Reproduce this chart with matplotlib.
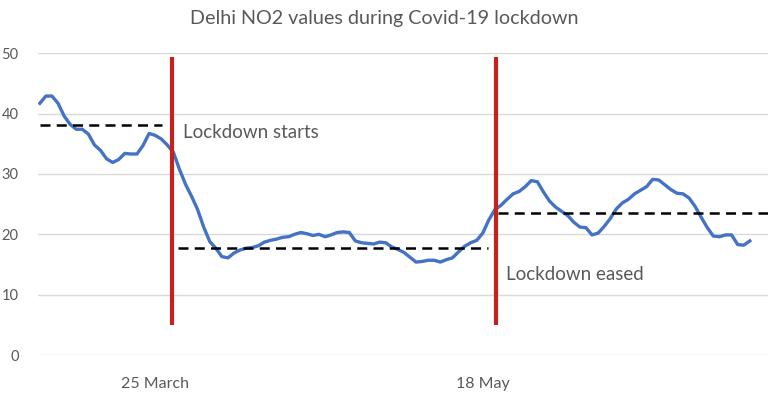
import numpy as np
import matplotlib
matplotlib.use("Agg")
import matplotlib.pyplot as plt

# ── Data (daily NO2, from 6 March onward) ─────────────────────────────────
no2 = [
    41.7, 42.9, 42.9, 41.7, 39.6, 38.2, 37.4, 37.4, 36.6, 34.8,
    33.9, 32.5, 31.9, 32.4, 33.4, 33.3, 33.3, 34.7, 36.7, 36.4,
    35.8, 34.8, 33.6, 30.8, 28.3, 26.3, 24.1, 21.2, 18.8, 17.7,
    16.3, 16.1, 16.9, 17.4, 17.7, 17.8, 18.1, 18.7, 19.0, 19.2,
    19.5, 19.6, 20.0, 20.3, 20.1, 19.8, 20.0, 19.6, 19.9, 20.3,
    20.4, 20.3, 18.9, 18.6, 18.5, 18.4, 18.7, 18.6, 17.9, 17.5,
    17.0, 16.2, 15.4, 15.5, 15.7, 15.7, 15.4, 15.8, 16.1, 17.1,
    18.0, 18.6, 19.0, 20.2, 22.4, 24.1, 24.8, 25.8, 26.7, 27.1,
    27.9, 28.9, 28.7, 27.0, 25.5, 24.5, 23.8, 23.1, 22.0, 21.2,
    21.1, 19.9, 20.2, 21.3, 22.6, 24.2, 25.2, 25.8, 26.7, 27.3,
    27.9, 29.1, 29.0, 28.2, 27.4, 26.8, 26.7, 26.0, 24.6, 22.8,
    21.1, 19.7, 19.6, 19.9, 19.9, 18.3, 18.2, 18.9,
]
tick_pos = [19, 73]
tick_labels = ["25 March", "18 May"]

# period means (dashed) and lockdown markers (red)
mean_levels = [38.1, 17.7, 23.5]
mean_spans = [(0, 20.1), (22.7, 73.8), (75.5, 120)]
events = [21.7, 75.1]
event_labels = ["Lockdown starts", "Lockdown eased"]
event_label_pos = [(23.6, 36.8), (76.8, 13.4)]

GREY = "#595959"
BLUE = "#4472C4"
RED = "#C4221A"

plt.rcParams["font.family"] = ["Lato", "DejaVu Sans"]

fig = plt.figure(figsize=(7.68, 4.03), dpi=100)
ax = fig.add_axes([0.0495, 0.119, 0.9505, 0.749])

x = np.arange(len(no2))
ax.plot(x, no2, color=BLUE, lw=2.4, solid_joinstyle="round", zorder=3)

for lvl, (x0, x1) in zip(mean_levels, mean_spans):
    ax.plot([x0, x1], [lvl, lvl], color="black", lw=1.8, ls=(0, (4, 2.5)), zorder=4)

for ev in events:
    ax.plot([ev, ev], [5, 49.3], color=RED, lw=3, zorder=5, solid_capstyle="butt")

for lbl, (tx, ty) in zip(event_labels, event_label_pos):
    ax.text(tx, ty, lbl, fontsize=13.5, color=GREY, va="center", ha="left")

ax.set_xlim(-0.3, 120)
ax.set_ylim(0, 50)
ax.set_yticks(range(0, 51, 10))
ax.yaxis.grid(True, color="#D9D9D9", lw=1)
ax.set_axisbelow(True)
ax.set_xticks(tick_pos)
ax.set_xticklabels(tick_labels)
ax.tick_params(length=0, colors=GREY, labelsize=10.5)
ax.tick_params(axis="x", pad=16, labelsize=11.5)
ax.tick_params(axis="y", pad=14)
for s in ax.spines.values():
    s.set_visible(False)

fig.suptitle("Delhi NO2 values during Covid-19 lockdown", x=0.5, y=0.975,
             fontsize=14.2, color=GREY)

fig.savefig("out.png", dpi=100)
